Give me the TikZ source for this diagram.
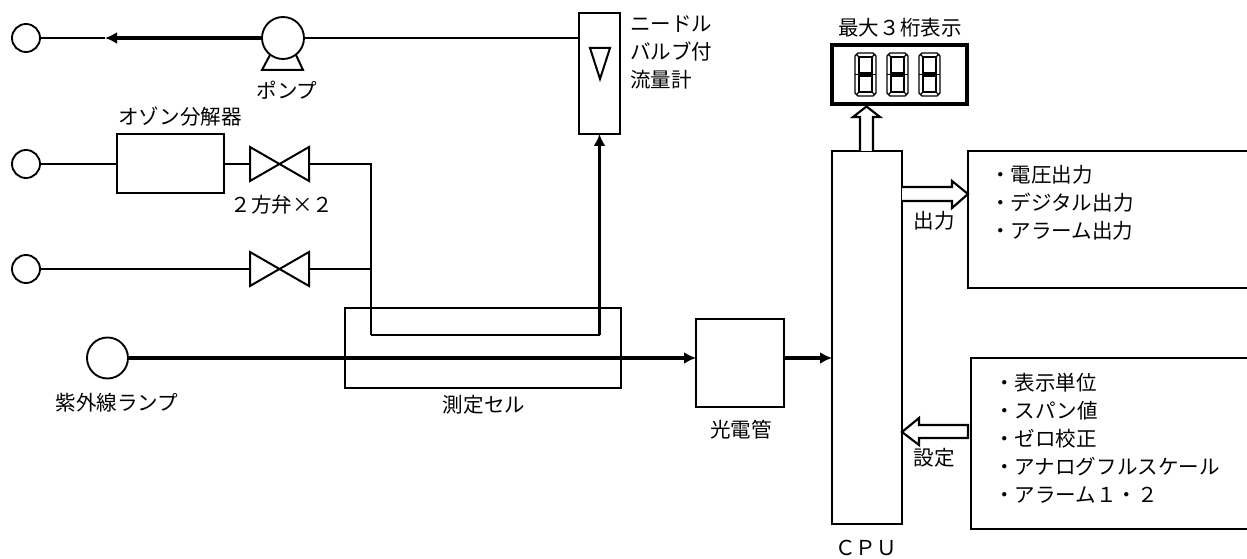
\documentclass[tikz,border=0pt]{standalone}
\usepackage{fontspec}
\usetikzlibrary{arrows.meta}
\newfontfamily\cjk{Noto Sans CJK JP}
\tikzset{
  lbl/.style={inner sep=0pt,font=\fontsize{15.4}{21}\cjk\selectfont},
  listlbl/.style={lbl,align=left,anchor=west},
  box/.style 2 args={draw,line width=1.5pt,inner sep=0pt,outer sep=0pt,minimum width=#1*.75pt,minimum height=#2*.75pt},
  port/.style={draw,circle,line width=1.4pt,inner sep=0pt,outer sep=0pt,minimum size=#1*.75pt},
  pipe/.style={line width=1.5pt},
  thinpipe/.style={line width=1.1pt},
  flow/.style={line width=2.3pt,-{Latex[length=9pt,width=9pt]}},
  hollow/.style={line width=1.6pt,fill=white,line join=miter},
  segline/.style={line width=0.9pt}
}
\begin{document}
\begin{tikzpicture}[x=0.75pt,y=-0.75pt]
  \useasboundingbox (0,0) rectangle (1247,559);
  \node[port=28] (outlet) at (26,38) {};
  \node[port=28] (sampleA) at (26,164) {};
  \node[port=28] (sampleB) at (26,269) {};
  \node[port=41] (lamp) at (107.5,358) {};
  \draw[pipe] (262,70) -- (303,70) -- (296,55) -- (270,55) -- cycle;
  \node[port=42,fill=white] (pump) at (283,38) {};
  \node[box={107}{59}] (ozone) at (170.5,164) {};
  \node[box={59}{34},draw=none] (valveA) at (279.5,164) {};
  \node[box={59}{34},draw=none] (valveB) at (279.5,269) {};
  \draw[pipe] (valveA.north west) -- (valveA.south east) -- (valveA.north east) -- (valveA.south west) -- cycle;
  \draw[pipe] (valveB.north west) -- (valveB.south east) -- (valveB.north east) -- (valveB.south west) -- cycle;
  \node[box={41}{121}] (meter) at (599.5,73.5) {};
  \draw[pipe] (590,48) -- (610,48) -- (600,79) -- cycle;
  \node[box={276}{80}] (cell) at (483,348) {};
  \node[box={88}{88}] (tube) at (740,363) {};
  \node[box={70}{373}] (cpu) at (867,337.5) {};
  \node[box={135}{59},line width=3pt] (display) at (899.5,74.5) {};
  \coordinate (arrowtip) at (105,38);
  \coordinate (bend) at (370.5,164);
  \coordinate (bendlow) at (370.5,335);
  \coordinate (riser) at (599.5,335);
  \draw[thinpipe] (outlet.east) -- (arrowtip);
  \draw[flow] (pump.west) -- (arrowtip);
  \draw[thinpipe] (pump.east) -- (pump.east -| meter.west);
  \draw[pipe] (sampleA.east) -- (ozone.west);
  \draw[pipe] (ozone.east) -- (valveA.west);
  \draw[pipe] (sampleB.east) -- (valveB.west);
  \draw[pipe] (valveA.east) -- (bend) -- (bendlow);
  \draw[pipe] (valveB.east) -- (valveB.east -| bend);
  \draw[line width=2pt] (bendlow) -- (riser);
  \draw[flow] (riser) -- (meter.south);
  \draw[flow] (lamp.east) -- (lamp.east -| tube.west);
  \draw[flow] (lamp.east -| tube.east) -- (lamp.east -| cpu.west);
  \foreach \x in {855,887,919} {
    \draw[segline] (\x+3,53) -- (\x+18,53) -- (\x+21,56) -- (\x+21,93) -- (\x+18,96) -- (\x+3,96) -- (\x,93) -- (\x,56) -- cycle;
    \draw[segline] (\x+4,57) rectangle (\x+17,73);
    \draw[segline] (\x+4,76) rectangle (\x+17,92);
    \draw[segline] (\x,74.5) -- (\x+21,74.5);
    \draw[segline] (\x+1,54) -- (\x+4,57);
    \draw[segline] (\x+20,54) -- (\x+17,57);
    \draw[segline] (\x+1,95) -- (\x+4,92);
    \draw[segline] (\x+20,95) -- (\x+17,92);
  }
  \draw[hollow] (860,151) -- (860,117) -- (853,117) -- (866.5,106.5) -- (880,117) -- (873,117) -- (873,151);
  \draw[hollow] (902,187) -- (952,187) -- (952,181) -- (968,194) -- (952,208) -- (952,201) -- (902,201);
  \draw[hollow] (968,425) -- (919,425) -- (919,418) -- (902,432) -- (919,445) -- (919,438) -- (968,438) -- cycle;
  \draw[pipe] (1247,151) -- (968,151) -- (968,288) -- (1247,288);
  \draw[pipe] (1247,358) -- (971,358) -- (971,529) -- (1247,529);
  \node[lbl] (pumplbl) at (287,90) {ポンプ};
  \node[lbl] (ozonelbl) at (180,117) {オゾン分解器};
  \node[lbl] (valvelbl) at (282,205) {^^^^ff12方弁×^^^^ff12};
  \node[listlbl] (meterlbl) at (630,52) {ニードル\\バルブ付\\流量計};
  \node[lbl] (lamplbl) at (117,403) {紫外線ランプ};
  \node[lbl] (celllbl) at (484,405) {測定セル};
  \node[lbl] (tubelbl) at (741,430) {光電管};
  \node[lbl] (displaylbl) at (900,28) {最大^^^^ff13桁表示};
  \node[lbl] (outlbl) at (934,221) {出力};
  \node[lbl] (setlbl) at (934,458) {設定};
  \node[lbl] (cpulbl) at (866,548) {^^^^ff23^^^^ff30^^^^ff35};
  \node[listlbl] (outlist) at (990,203) {・電圧出力\\・デジタル出力\\・アラーム出力};
  \node[listlbl] (setlist) at (994,438) {・表示単位\\・スパン値\\・ゼロ校正\\・アナログフルスケール\\・アラーム^^^^ff11・^^^^ff12};
\end{tikzpicture}
\end{document}
